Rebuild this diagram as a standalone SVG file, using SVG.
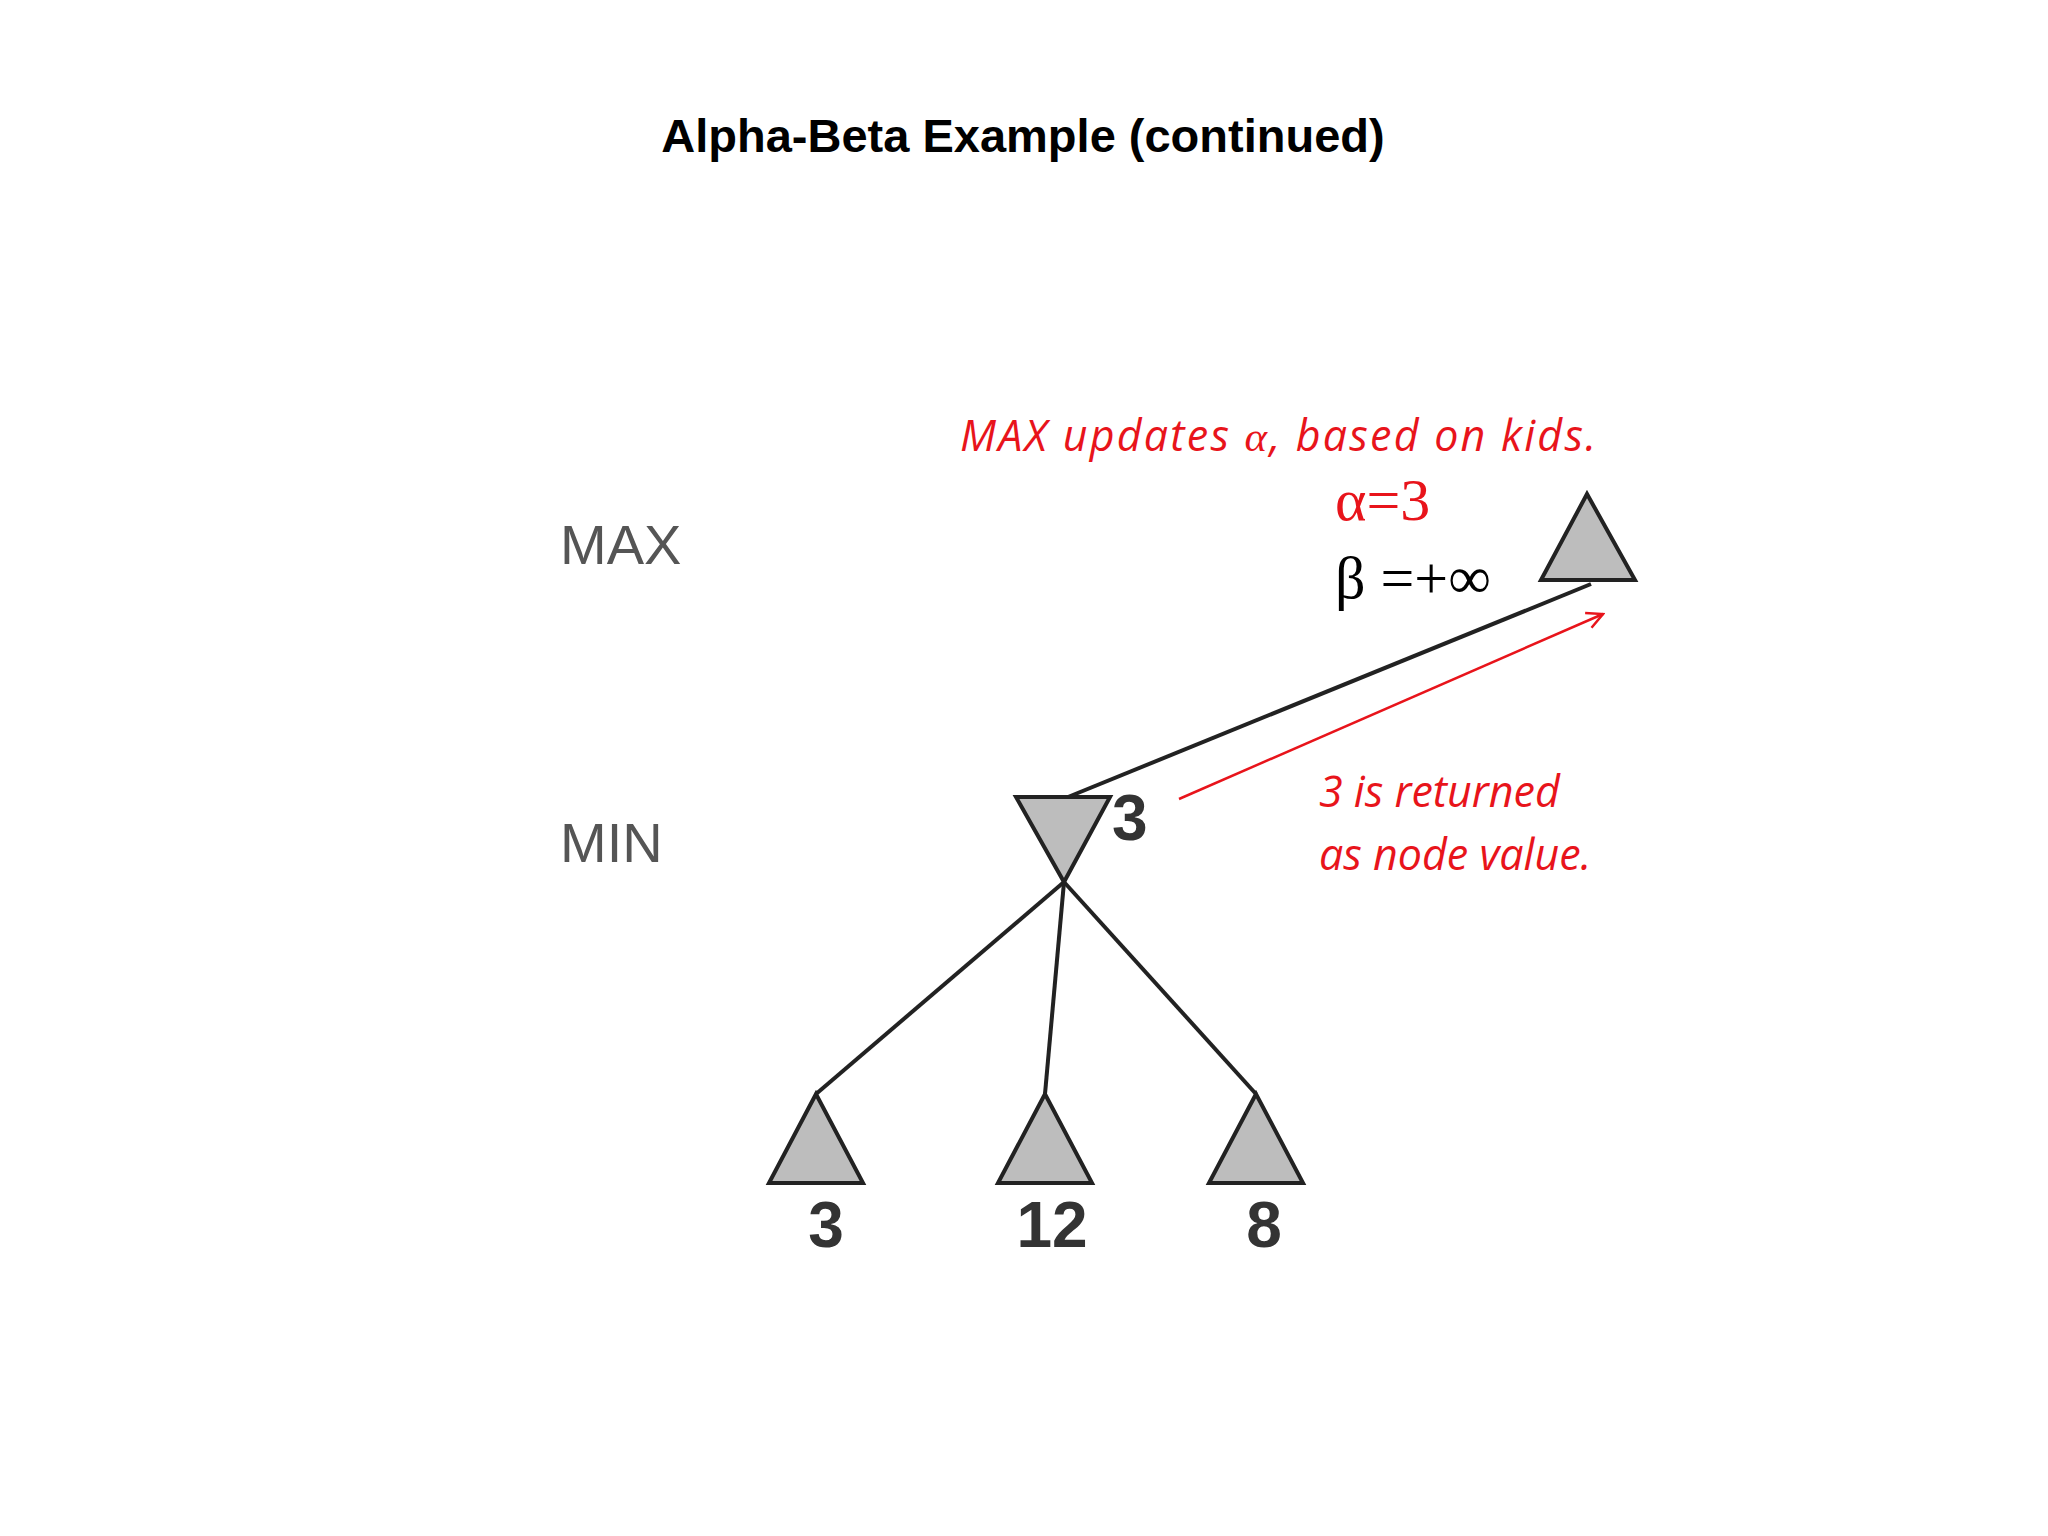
<svg xmlns="http://www.w3.org/2000/svg" width="2048" height="1536" viewBox="0 0 2048 1536">
<defs>
<style>
.tri{fill:#bdbdbd;stroke:#222;stroke-width:4;stroke-linejoin:miter}
.edge{stroke:#222;stroke-width:4;fill:none}
.lvl{font-family:"Liberation Sans",Arial,sans-serif;font-size:56px;fill:#555}
.val{font-family:"Liberation Sans",Arial,sans-serif;font-size:64px;font-weight:bold;fill:#333}
.red{font-family:"Open Sans","Liberation Sans",sans-serif;font-style:italic;font-size:43px;fill:#e8141b}
.ser{font-family:"Liberation Serif","Times New Roman",serif;font-size:60px}
</style>
<marker id="ah" viewBox="0 0 20 20" refX="18" refY="10" markerWidth="20" markerHeight="20" markerUnits="userSpaceOnUse" orient="auto"><path d="M2,2 L18,10 L2,18" fill="none" stroke="#e8141b" stroke-width="2.5"/></marker>
</defs>
<rect width="2048" height="1536" fill="#fff"/>
<text x="1023" y="152" text-anchor="middle" font-family="Liberation Sans,Arial,sans-serif" font-weight="bold" font-size="47">Alpha-Beta Example (continued)</text>
<text class="lvl" x="560" y="564">MAX</text>
<text class="lvl" x="560" y="862">MIN</text>
<g id="connectors">
<line class="edge" x1="1591" y1="584" x2="1068" y2="797"/>
<line class="edge" x1="1064" y1="882" x2="816" y2="1094"/>
<line class="edge" x1="1064" y1="882" x2="1045" y2="1094"/>
<line class="edge" x1="1064" y1="882" x2="1256" y2="1094"/>
<line x1="1179" y1="799" x2="1603" y2="614" stroke="#e8141b" stroke-width="2.5" marker-end="url(#ah)"/>
</g>
<g id="max"><polygon class="tri" points="1587,494 1541,580 1635,580"/></g>
<g id="min"><polygon class="tri" points="1016,797 1110,797 1064,882"/><text class="val" x="1112" y="840" font-size="60" font-weight="bold" font-family="Liberation Sans,Arial,sans-serif" fill="#333">3</text></g>
<g id="leaf1"><polygon class="tri" points="816,1094 769,1183 863,1183"/><text class="val" x="826" y="1247" text-anchor="middle">3</text></g>
<g id="leaf2"><polygon class="tri" points="1045,1094 998,1183 1092,1183"/><text class="val" x="1052" y="1247" text-anchor="middle">12</text></g>
<g id="leaf3"><polygon class="tri" points="1256,1094 1209,1183 1303,1183"/><text class="val" x="1264" y="1247" text-anchor="middle">8</text></g>
<text class="red" x="960" y="451" textLength="636">MAX updates <tspan font-family="Liberation Serif,serif">α</tspan>, based on kids.</text>
<text class="ser" x="1335" y="520" fill="#e8141b">α=3</text>
<text class="ser" x="1335" y="598" fill="#000">β =+∞</text>
<text class="red" x="1319" y="807">3 is returned</text>
<text class="red" x="1319" y="870">as node value.</text>
</svg>
